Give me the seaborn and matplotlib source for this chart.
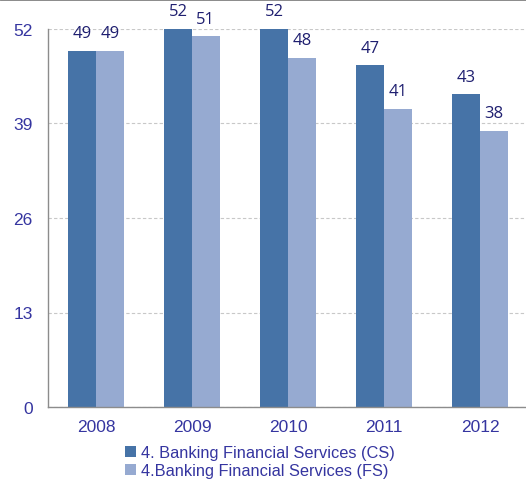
import matplotlib
matplotlib.use("Agg")
import matplotlib.pyplot as plt
import seaborn as sns
import pandas as pd
from matplotlib.patches import Patch
from matplotlib.lines import Line2D

years = ["2008", "2009", "2010", "2011", "2012"]
cs_values = [49, 52, 52, 47, 43]
fs_values = [49, 51, 48, 41, 38]
series_names = ["4. Banking Financial Services (CS)", "4.Banking Financial Services (FS)"]
y_ticks = [0, 13, 26, 39, 52]

colors = ["#4673A7", "#96AAD1"]
label_color = "#1F1F70"
tick_color = "#3535A0"

df = pd.DataFrame({
    "year": years * 2,
    "value": cs_values + fs_values,
    "series": [series_names[0]] * len(years) + [series_names[1]] * len(years),
})

sns.set_style("white")
plt.rcParams["font.family"] = ["Liberation Sans", "DejaVu Sans"]

fig = plt.figure(figsize=(5.26, 4.81), dpi=100)
ax = fig.add_axes([48 / 526, 1 - 408 / 481, (528 - 48) / 526, 378 / 481])

sns.barplot(data=df, x="year", y="value", hue="series", order=years,
            hue_order=series_names, palette=colors, width=0.575, gap=0,
            saturation=1, ax=ax, legend=False, edgecolor="none")

ax.set_ylim(0, 52)
ax.set_xlim(-0.5, 4.5)
ax.set_yticks(y_ticks)
ax.set_yticklabels([str(t) for t in y_ticks])
ax.set_xlabel("")
ax.set_ylabel("")
ax.yaxis.grid(True, linestyle=(0, (3, 2)), color="#C8C8C8", linewidth=0.8)
ax.set_axisbelow(True)
for s in ["top", "right"]:
    ax.spines[s].set_visible(False)
for s in ["left", "bottom"]:
    ax.spines[s].set_color("#8C8C8C")
    ax.spines[s].set_linewidth(1.0)

ax.set_xticks(range(len(years)))
ax.set_xticklabels(years)
ax.set_xticks([i - 0.5 for i in range(len(years) + 1)], minor=True)
ax.tick_params(axis="x", which="major", length=0, pad=9, labelsize=12.5, labelcolor=tick_color)
ax.tick_params(axis="x", which="minor", length=5, color="#8C8C8C", direction="out")
ax.tick_params(axis="y", which="major", length=5, color="#8C8C8C", direction="out",
               pad=6, labelsize=12.5, labelcolor=tick_color)

for container in ax.containers:
    ax.bar_label(container, fmt="%d", padding=7, fontsize=12, color=label_color,
                 family=["Open Sans", "DejaVu Sans"])

handles = [Patch(facecolor=c, edgecolor="none") for c in colors]
fig.legend(handles, series_names, loc="upper left", bbox_to_anchor=(125 / 526, 1 - 446 / 481),
           frameon=False, fontsize=11.8, labelcolor=tick_color, handlelength=0.7,
           handleheight=0.7, handletextpad=0.25, labelspacing=0.2, borderaxespad=0,
           borderpad=0)

fig.add_artist(Line2D([0, 1], [0.999, 0.999], transform=fig.transFigure,
                      color="#808080", linewidth=2))

fig.savefig("out.png", dpi=100)
